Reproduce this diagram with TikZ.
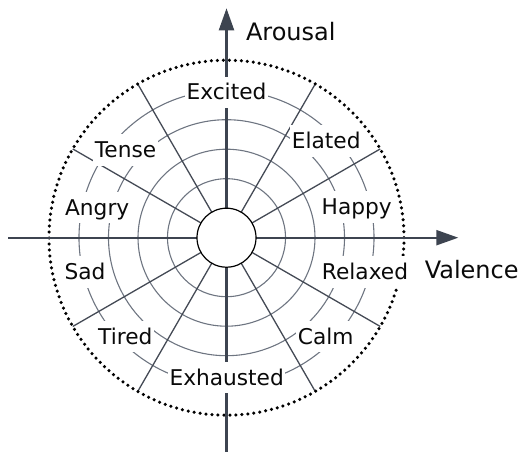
\documentclass[tikz,border=0pt]{standalone}
\usepackage{fontspec}
\setmainfont{DejaVu Sans}
\usetikzlibrary{arrows.meta}
\definecolor{axiscol}{HTML}{3D4450}
\definecolor{ringcol}{HTML}{6E7581}
\definecolor{spokecol}{HTML}{444A55}
\definecolor{txt}{HTML}{0A0A0A}
\begin{document}
\begin{tikzpicture}[x=1pt,y=-1pt,
  ring/.style={draw=ringcol, line width=1.1pt},
  spoke/.style={draw=spokecol, line width=1.3pt},
  axisline/.style={draw=axiscol, line width=2.2pt, -{Triangle[length=22pt,width=15pt]}},
  dotring/.style={draw=black, line width=3.5pt, dash pattern=on 0pt off 6pt, line cap=round},
  hubnode/.style={circle, draw=black, line width=1.2pt, fill=white, minimum size=59pt, inner sep=0pt},
  emo/.style={fill=white, text=txt, font=\fontsize{21.7}{26}\selectfont, anchor=base,
    inner xsep=1.5pt, inner ysep=1.3pt, text height=22pt, text depth=7pt},
  axlabel/.style={text=txt, font=\fontsize{24}{29}\selectfont, anchor=base, inner sep=0pt}]
\useasboundingbox (0,0) rectangle (523,452);
\coordinate (O) at (226.5,237.7);
% rings
\foreach \r in {59,88.5,118,147.5}
  \draw[ring] (O) circle[radius=\r pt];
% spokes
\foreach \a in {30,60,120,150,210,240,300,330}
  \draw[spoke, shift={(O)}] (\a:29.5pt) -- (\a:177.5pt);
% dotted outer circle
\draw[dotring] (O) circle[radius=177.5pt];
% axes
\coordinate (xs) at (8.3,237.7);
\coordinate (xe) at (458.3,237.7);
\coordinate (ys) at (226.5,452);
\coordinate (ye) at (226.5,8.3);
\draw[axisline] (xs) -- (xe);
\draw[axisline] (ys) -- (ye);
% hub
\node[hubnode] (hub) at (O) {};
% emotion labels
\node[emo] (excited) at (226.5,100) {Excited};
\node[emo] (elated) at (326.2,148.3) {Elated};
\node[emo] (happy) at (356.7,214.3) {Happy};
\node[emo] (relaxed) at (365,279.3) {Relaxed};
\node[emo] (calm) at (325.8,344) {Calm};
\node[emo] (exhausted) at (226.7,385) {Exhausted};
\node[emo] (tired) at (125.3,344) {Tired};
\node[emo] (sad) at (85,279.3) {Sad};
\node[emo] (angry) at (97.2,215) {Angry};
\node[emo] (tense) at (125.5,157.7) {Tense};
% axis labels
\node[axlabel] (arousal) at (290.8,40.7) {Arousal};
\node[axlabel] (valence) at (471.7,278.3) {Valence};
\end{tikzpicture}
\end{document}
